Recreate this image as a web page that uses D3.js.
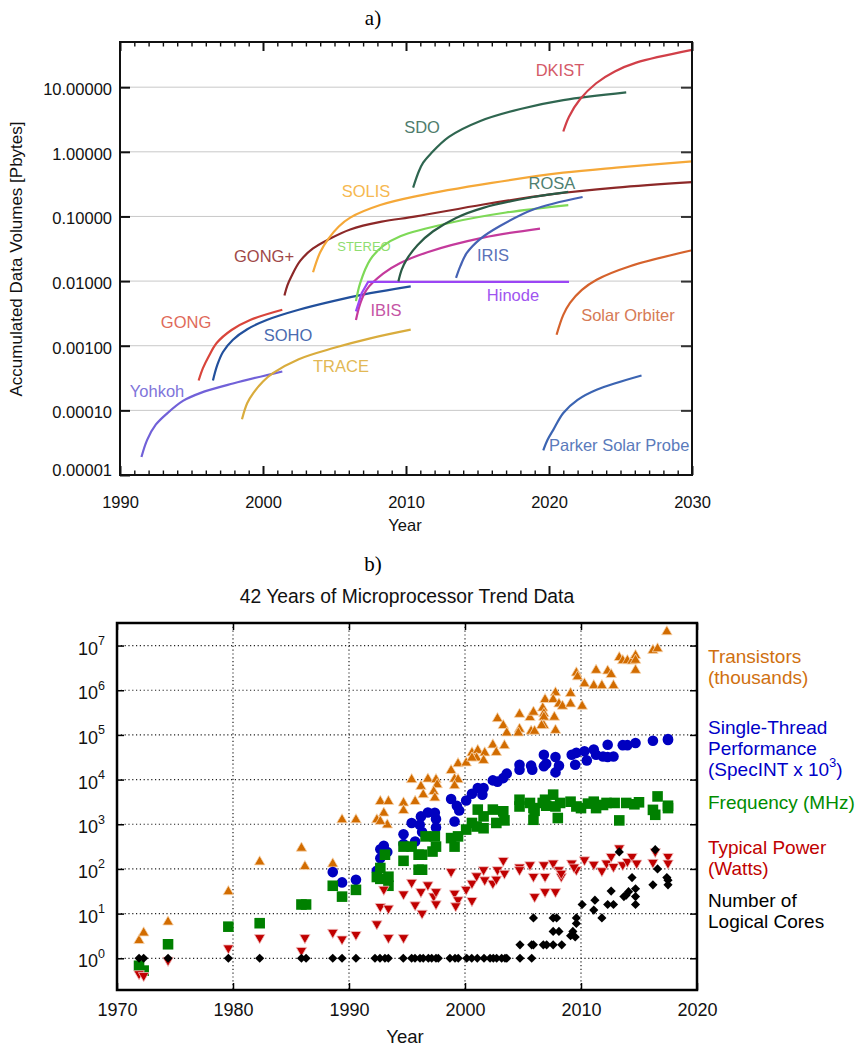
<!DOCTYPE html>
<html>
<head>
<meta charset="utf-8">
<script src="https://cdn.jsdelivr.net/npm/d3@7"></script>
<style>
  body { margin: 0; background: #fff; }
</style>
</head>
<body>
<svg id="fig" width="859" height="1047"></svg>
<script>
const FONT = '"Liberation Sans", Arial, Helvetica, sans-serif';
const SERIF = '"Liberation Serif", "DejaVu Serif", serif';

// ---------- panel a: accumulated data volume [PB] per year ----------
const yohkoh = [[1991.5, 1.9e-5], [1991.9, 3.5e-5], [1992.5, 6e-5], [1993.3, 9e-5], [1994.4, 1.4e-4], [1995.6, 1.85e-4], [1997.9, 2.6e-4], [2001.35, 4e-4]];
const gong = [[1995.5, 2.9e-4], [1995.8, 4.5e-4], [1996.2, 6.8e-4], [1996.76, 1.1e-3], [1997.8, 1.75e-3], [1999.1, 2.5e-3], [2001.35, 3.6e-3]];
const soho = [[1996.5, 2.9e-4], [1996.8, 5e-4], [1997.2, 8e-4], [1997.9, 1.24e-3], [1998.9, 1.8e-3], [2000.26, 2.5e-3], [2002.5, 3.6e-3], [2004.9, 4.9e-3], [2007.5, 6.5e-3], [2010.33, 8.3e-3]];
const trace = [[1998.53, 7.3e-5], [1998.9, 1.3e-4], [1999.32, 1.85e-4], [2000.0, 2.8e-4], [2000.72, 3.8e-4], [2002.5, 6.2e-4], [2004.92, 9.2e-4], [2007.5, 1.3e-3], [2010.33, 1.77e-3]];
const gongPlus = [[2001.5, 0.006], [2001.7, 0.0085], [2002.0, 0.012], [2002.6, 0.0205], [2003.5, 0.032], [2004.57, 0.044], [2006.1, 0.063], [2008.3, 0.083], [2010.7, 0.1], [2015.4, 0.153], [2020.1, 0.22], [2024.7, 0.28], [2030, 0.34]];
const solis = [[2003.5, 0.0137], [2004.0, 0.028], [2004.57, 0.045], [2005.3, 0.07], [2006.1, 0.096], [2008.2, 0.15], [2010.74, 0.206], [2016, 0.33], [2021, 0.475], [2024.7, 0.57], [2030, 0.71]];
const stereo = [[2006.5, 0.0049], [2006.8, 0.0094], [2007.5, 0.0215], [2008.4, 0.035], [2009.6, 0.0495], [2013.1, 0.08], [2017, 0.115], [2021.35, 0.15]];
const ibis = [[2006.5, 0.0025], [2006.8, 0.0045], [2007.25, 0.0074], [2008.4, 0.013], [2009.6, 0.019], [2011.5, 0.028], [2015.4, 0.047], [2019.37, 0.065]];
const hinode = [[2006.5, 0.0034], [2006.9, 0.0065], [2007.35, 0.0097], [2021.4, 0.0097]];
const rosa = [[2009.47, 0.0099], [2009.7, 0.015], [2010.04, 0.0215], [2010.8, 0.036], [2011.9, 0.059], [2013.5, 0.095], [2015.4, 0.136], [2018.9, 0.2], [2021.35, 0.24]];
const iris = [[2013.5, 0.0112], [2013.8, 0.017], [2014.24, 0.027], [2015.2, 0.045], [2016.57, 0.071], [2018.9, 0.128], [2022.35, 0.2]];
const sdo = [[2010.5, 0.28], [2010.9, 0.5], [2011.2, 0.68], [2011.7, 0.92], [2013, 1.7], [2015.2, 3.0], [2018, 4.6], [2021, 6.3], [2025.4, 8.3]];
const dkist = [[2021, 2.06], [2021.4, 3.5], [2022.17, 6.5], [2023.3, 11.5], [2024.6, 17.5], [2026.1, 24], [2030, 37.8]];
const solarOrbiter = [[2020.53, 0.00148], [2021.0, 0.003], [2021.47, 0.0046], [2022.3, 0.0073], [2023.33, 0.0105], [2025.66, 0.017], [2030, 0.03]];
const parker = [[2019.6, 2.4e-5], [2019.9, 3.5e-5], [2020.3, 5e-5], [2021, 9.1e-5], [2022.0, 1.45e-4], [2023.33, 2.08e-4], [2026.47, 3.46e-4]];

const missionNames = ["Yohkoh", "GONG", "SOHO", "TRACE", "GONG+", "SOLIS", "STEREO", "IBIS", "Hinode", "ROSA", "IRIS", "SDO", "DKIST", "Solar Orbiter", "Parker Solar Probe"];
const missionData = [yohkoh, gong, soho, trace, gongPlus, solis, stereo, ibis, hinode, rosa, iris, sdo, dkist, solarOrbiter, parker];
const yTicksA = [1e-5, 1e-4, 1e-3, 1e-2, 1e-1, 1, 10];

// styles
const lineColor = {
  "Yohkoh": "#7161d8", "GONG": "#d9453b", "SOHO": "#22509c", "TRACE": "#d9ac3d", "GONG+": "#8c2828",
  "SOLIS": "#f5a838", "STEREO": "#7ed957", "IBIS": "#c43a9c", "Hinode": "#9b45f5", "ROSA": "#2a5a45",
  "IRIS": "#4562b4", "SDO": "#2f6650", "DKIST": "#d13f48", "Solar Orbiter": "#d5622c", "Parker Solar Probe": "#3b64b2"
};
const labelColor = {
  "Yohkoh": "#8075da", "GONG": "#e06a5a", "SOHO": "#4a6bb0", "TRACE": "#e2b855", "GONG+": "#a04848",
  "SOLIS": "#f6b850", "STEREO": "#8fdd70", "IBIS": "#c555a5", "Hinode": "#a055f0", "ROSA": "#4f8070",
  "IRIS": "#5a72b8", "SDO": "#4f7c6c", "DKIST": "#d45a68", "Solar Orbiter": "#d67a55", "Parker Solar Probe": "#5a7abb"
};
// label anchors in data units
const labelAt = {
  "DKIST": [2020.77, 14.8], "SDO": [2011.12, 1.94], "SOLIS": [2007.2, 0.197], "ROSA": [2020.2, 0.262],
  "GONG+": [2000.07, 0.0194], "STEREO": [2007.06, 0.0292], "IRIS": [2016.08, 0.0203], "Hinode": [2017.48, 0.00486],
  "GONG": [1994.62, 0.0019], "SOHO": [2001.75, 0.00117], "IBIS": [2008.6, 0.00292], "Solar Orbiter": [2025.52, 0.00244],
  "TRACE": [2005.45, 3.86e-4], "Yohkoh": [1992.59, 1.62e-4], "Parker Solar Probe": [2020.0, 2.35e-5]
};

// ---------- panel b: microprocessor trend data ----------
const transistors = [[1971.9,2.5],[1972.3,3.7],[1974.4,6.5],[1979.6,31],[1982.3,144],[1985.9,292],[1986.2,113],[1988.6,130],[1989.4,1260],[1990.6,1260],[1992.4,1260],[1992.7,3240],[1993.4,3240],[1993.0,1780],[1993.3,970],[1992.7,1160],[1994.7,3000],[1994.7,2030],[1995.7,3240],[1995.4,10000],[1996.2,7050],[1996.4,4600],[1996.8,10300],[1997.5,10000],[1997.6,7700],[1997.3,5400],[1997.4,3900],[1998.8,16000],[1999.4,22700],[1999.1,10300],[1999.4,10000],[1999.1,7300],[2000.1,23600],[2000.6,39700],[2001.1,45000],[2001.0,30400],[2000.6,30400],[2001.7,39700],[2001.6,26900],[2002.4,59700],[2002.7,40700],[2003.4,57500],[2002.8,232000],[2003.3,162000],[2003.6,111000],[2004.7,290000],[2004.7,135000],[2004.6,111000],[2005.6,245000],[2005.9,323000],[2005.7,121000],[2006.0,121000],[2006.7,400000],[2006.8,300000],[2006.8,250000],[2006.8,162000],[2006.6,162000],[2007.7,250000],[2007.8,127000],[2006.9,620000],[2007.8,880000],[2007.6,620000],[2008.1,495000],[2008.4,440000],[2009.1,850000],[2009.1,495000],[2010.1,440000],[2009.6,2450000],[2009.7,2000000],[2010.3,1400000],[2011.1,1270000],[2011.3,2800000],[2011.8,1270000],[2012.3,2700000],[2012.6,2250000],[2012.8,1270000],[2013.3,5400000],[2013.6,4600000],[2014.0,4600000],[2014.4,4500000],[2014.7,6000000],[2014.7,4700000],[2014.7,2800000],[2016.2,7800000],[2016.6,8500000],[2017.4,20400000]];
const singleThread = [[1988.6,85],[1989.4,50],[1990.6,57],[1992.4,91],[1992.7,174],[1992.7,277],[1993.0,330],[1993.3,240],[1994.7,600],[1994.7,360],[1995.4,1070],[1995.7,410],[1996.1,970],[1996.2,1500],[1996.3,670],[1996.8,1840],[1997.4,1800],[1997.5,1310],[1997.5,850],[1998.8,3670],[1999.1,1150],[1999.3,2580],[1999.5,2030],[2000.1,3400],[2000.6,4800],[2001.1,6460],[2001.5,4600],[2001.6,6460],[2002.4,9600],[2002.8,9000],[2003.3,10800],[2003.6,13600],[2004.7,21500],[2004.7,16600],[2005.7,20500],[2005.8,16600],[2006.8,36000],[2006.8,20000],[2007.0,22500],[2007.8,32000],[2008.1,20500],[2007.8,14500],[2009.2,36000],[2009.6,39700],[2009.5,21500],[2010.3,43000],[2010.5,26900],[2011.1,47000],[2011.3,36000],[2011.9,33000],[2012.3,32000],[2012.8,33000],[2012.3,60000],[2013.6,59000],[2014.0,59000],[2014.7,66000],[2016.2,74000],[2017.5,81000],[2017.5,77000]];
const frequency = [[1971.9,0.68],[1972.3,0.53],[1974.4,2.06],[1979.6,5.1],[1982.3,6.1],[1985.9,16],[1986.3,16],[1988.6,42],[1989.4,24],[1990.6,34],[1992.4,66],[1992.7,105],[1992.7,60],[1993.4,67],[1993.4,42],[1993.1,208],[1994.7,152],[1994.7,316],[1995.4,316],[1996.0,96],[1996.3,96],[1996.0,208],[1996.3,208],[1996.6,535],[1997.2,245],[1997.5,316],[1997.4,535],[1998.8,490],[1999.1,316],[1999.4,535],[2000.1,760],[2000.6,1070],[2001.0,890],[2001.6,815],[2001.1,2130],[2001.6,1500],[2002.4,2130],[2002.7,1070],[2003.3,1950],[2003.4,1220],[2004.7,3540],[2004.7,2500],[2005.6,3000],[2005.9,1260],[2005.9,2300],[2006.0,2000],[2006.7,3000],[2006.9,3540],[2007.0,2600],[2007.6,4600],[2008.0,1380],[2007.8,2500],[2008.2,3000],[2009.1,3200],[2009.6,2500],[2010.0,2300],[2010.6,2900],[2011.1,3200],[2011.3,2300],[2011.9,2700],[2012.2,3000],[2012.9,3000],[2013.3,1220],[2013.9,3000],[2014.6,2800],[2015.0,3100],[2016.2,2100],[2016.4,1630],[2016.6,4200],[2017.5,2300],[2017.5,2600]];
const power = [[1971.9,0.45],[1972.3,0.41],[1974.4,0.9],[1979.6,1.7],[1982.3,2.9],[1985.9,1.5],[1986.2,2.9],[1988.6,3.8],[1989.4,2.7],[1990.6,3.4],[1992.4,5.9],[1992.7,14.4],[1993.0,35],[1993.4,13.2],[1993.4,2.9],[1994.7,2.9],[1994.7,27.5],[1995.4,50],[1995.7,15.7],[1996.2,31],[1996.3,10.2],[1996.8,44],[1997.3,24.6],[1997.5,31],[1997.5,16.5],[1998.8,87],[1999.1,28.6],[1999.4,20.4],[1999.2,14.9],[2000.1,35],[2000.6,19.6],[2000.6,48],[2001.0,70],[2001.6,96],[2001.7,57],[2002.4,48],[2002.7,59],[2002.8,96],[2003.3,155],[2003.4,80],[2004.7,110],[2004.7,96],[2005.6,124],[2005.9,68],[2006.0,24],[2006.8,124],[2006.9,68],[2006.9,31],[2007.6,135],[2007.8,31],[2008.1,96],[2008.3,68],[2008.3,80],[2009.2,135],[2009.6,96],[2009.4,110],[2010.3,160],[2011.1,127],[2011.8,91],[2012.2,135],[2012.6,190],[2012.8,113],[2013.3,295],[2013.6,124],[2014.0,147],[2014.4,190],[2014.8,135],[2016.2,140],[2016.4,245],[2017.5,190],[2017.5,135]];
const cores = [[1971.9,1],[1972.3,1],[1974.4,1],[1979.6,1],[1982.3,1],[1985.9,1],[1986.3,1],[1988.6,1],[1989.4,1],[1990.6,1],[1992.24,1],[1992.67,1],[1993.1,1],[1993.39,1],[1994.68,1],[1995.4,1],[1995.69,1],[1996.12,1],[1996.4,1],[1996.84,1],[1997.13,1],[1997.5,1],[1997.7,1],[1998.7,1],[1999.14,1],[1999.42,1],[2000.15,1],[2000.58,1],[2001.06,1],[2001.64,1],[2002.16,1],[2002.44,1],[2002.73,1],[2003.16,1],[2003.45,1],[2003.6,1],[2004.74,1],[2005.75,1],[2004.74,2],[2005.75,2],[2005.9,2],[2006.75,2],[2007.04,2],[2007.6,2],[2008.34,2],[2005.9,8],[2007.6,8],[2007.9,8],[2007.6,4],[2008.1,4],[2009.1,3.2],[2009.3,4],[2009.5,3],[2009.6,6],[2009.6,8],[2010.1,16],[2011.1,12],[2011.2,20],[2011.8,8],[2012.3,16],[2012.8,16],[2012.6,32],[2013.3,240],[2013.7,24],[2013.9,26],[2014.1,31],[2014.4,64],[2014.7,36],[2014.7,24],[2014.7,16],[2016.2,44],[2016.4,270],[2016.6,100],[2017.4,64],[2017.5,56],[2017.5,44]];
const xTicksB = [1970, 1980, 1990, 2000, 2010, 2020];
const yExpB = [0, 1, 2, 3, 4, 5, 6, 7];

const svg = d3.select("#fig");

// ======================= panel a =======================
const xA = d3.scaleLinear().domain([1990, 2030]).range([120, 692]);
const yA = d3.scaleLog().domain([1e-5, 50]).range([475, 42]);
const gA = svg.append("g");

gA.append("text").attr("x", 373).attr("y", 25).attr("text-anchor", "middle")
  .attr("font-family", SERIF).attr("font-size", 21).text("a)");

// grid
gA.append("g").selectAll("line").data(yTicksA.slice(1)).join("line")
  .attr("x1", xA(1990)).attr("x2", xA(2030))
  .attr("y1", d => yA(d)).attr("y2", d => yA(d))
  .attr("stroke", "#c8c8c8").attr("stroke-width", 1);

// curves
const lineA = d3.line().x(d => xA(d[0])).y(d => yA(d[1]));
gA.append("g").attr("fill", "none").attr("stroke-width", 2.2)
  .selectAll("path").data(missionNames).join("path")
  .attr("stroke", d => lineColor[d])
  .attr("d", (d, i) => lineA.curve(d === "Hinode" ? d3.curveLinear : d3.curveCatmullRom.alpha(0.5))(missionData[i]));

// mission labels
gA.append("g").attr("font-family", FONT)
  .selectAll("text").data(missionNames).join("text")
  .attr("x", d => xA(labelAt[d][0])).attr("y", d => yA(labelAt[d][1]))
  .attr("text-anchor", d => d === "Parker Solar Probe" ? "start" : "middle")
  .attr("font-size", d => d === "STEREO" ? 13 : 16.5)
  .attr("fill", d => labelColor[d])
  .text(d => d);

function styleAxis(g) {
  g.attr("font-family", FONT).attr("font-size", 16.5);
  g.select(".domain").remove();
  g.selectAll(".tick text").attr("fill", "#111");
}
const years = d3.range(1990, 2031);
gA.append("g").attr("transform", "translate(0,475)")
  .call(d3.axisBottom(xA).tickValues(years).tickSize(-4).tickPadding(21).tickFormat(d => d % 10 ? "" : d))
  .call(styleAxis)
  .call(g => g.selectAll(".tick line").attr("y2", d => d % 10 ? -4.5 : -9)
    .attr("stroke", "#111").attr("stroke-width", d => d % 10 ? 1.4 : 2));
gA.append("g").attr("transform", "translate(0,42)")
  .call(d3.axisTop(xA).tickValues(years).tickSize(-4).tickFormat(""))
  .call(styleAxis)
  .call(g => g.selectAll(".tick line").attr("y2", d => d % 10 ? 4.5 : 9)
    .attr("stroke", "#111").attr("stroke-width", d => d % 10 ? 1.4 : 2));
gA.append("g").attr("transform", "translate(120,0)")
  .call(d3.axisLeft(yA).tickValues(yTicksA).tickSize(-10).tickPadding(8).tickFormat(d3.format(".5f")))
  .call(styleAxis)
  .call(g => {
    g.selectAll(".tick line").attr("stroke", "#111").attr("stroke-width", 2);
    g.selectAll(".tick text").attr("dy", d => d === 1e-5 ? "0.05em" : "0.45em");
  });
gA.append("g").attr("transform", "translate(692,0)")
  .call(d3.axisRight(yA).tickValues(yTicksA.slice(1)).tickSize(-11).tickFormat(""))
  .call(styleAxis)
  .call(g => g.selectAll(".tick line").attr("stroke", "#333").attr("stroke-width", 2));

gA.append("rect").attr("x", 120).attr("y", 42).attr("width", 572).attr("height", 433)
  .attr("fill", "none").attr("stroke", "#111").attr("stroke-width", 2);

gA.append("text").attr("x", 405).attr("y", 531).attr("text-anchor", "middle")
  .attr("font-family", FONT).attr("font-size", 16.5).attr("fill", "#111").text("Year");
gA.append("text").attr("transform", "translate(22,259) rotate(-90)").attr("text-anchor", "middle")
  .attr("font-family", FONT).attr("font-size", 17).attr("fill", "#111")
  .text("Accumulated Data Volumes [Pbytes]");

// ======================= panel b =======================
const xB = d3.scaleLinear().domain([1970, 2020]).range([117, 697]);
const yB = d3.scaleLog().domain([0.195, 3.2e7]).range([990, 623]);
const gB = svg.append("g");

gB.append("text").attr("x", 373).attr("y", 571).attr("text-anchor", "middle")
  .attr("font-family", SERIF).attr("font-size", 21).text("b)");
gB.append("text").attr("x", 407).attr("y", 603).attr("text-anchor", "middle")
  .attr("font-family", FONT).attr("font-size", 19.3).attr("fill", "#111")
  .text("42 Years of Microprocessor Trend Data");

// dotted grid
const grid = gB.append("g").attr("stroke", "#222").attr("stroke-width", 1.2).attr("stroke-dasharray", "1.2,2.6");
grid.selectAll("line.h").data(yExpB).join("line").attr("class", "h")
  .attr("x1", xB(1970)).attr("x2", xB(2020))
  .attr("y1", d => yB(10 ** d)).attr("y2", d => yB(10 ** d));
grid.selectAll("line.v").data(xTicksB.slice(1, -1)).join("line").attr("class", "v")
  .attr("x1", d => xB(d)).attr("x2", d => xB(d))
  .attr("y1", yB.range()[1]).attr("y2", yB.range()[0]);

// markers
const sym = (type, size) => d3.symbol(type, size)();
const markerSets = [
  { data: transistors, path: sym(d3.symbolTriangle, 48), rot: 0, fill: "#d26c00", stroke: "#f7d6b0" },
  { data: singleThread, path: sym(d3.symbolCircle, 88), rot: 0, fill: "#0000c0", stroke: "none" },
  { data: frequency, path: sym(d3.symbolSquare, 112), rot: 0, fill: "#008000", stroke: "none" },
  { data: power, path: sym(d3.symbolTriangle, 48), rot: 180, fill: "#c00000", stroke: "#f2c4c4" },
  { data: cores, path: sym(d3.symbolSquare, 42), rot: 45, fill: "#000", stroke: "none" }
];
markerSets.forEach(m => {
  gB.append("g").selectAll("path").data(m.data).join("path")
    .attr("d", m.path)
    .attr("transform", d => `translate(${xB(d[0])},${yB(d[1])}) rotate(${m.rot})`)
    .attr("fill", m.fill).attr("stroke", m.stroke).attr("stroke-width", 0.8);
});

// axes
function styleAxisB(g) {
  g.attr("font-family", FONT).attr("font-size", 18);
  g.select(".domain").remove();
  g.selectAll(".tick line").attr("stroke", "#000").attr("stroke-width", 1.5);
  g.selectAll(".tick text").attr("fill", "#111");
}
gB.append("g").attr("transform", "translate(0,990)")
  .call(d3.axisBottom(xB).tickValues(xTicksB).tickSize(-7).tickPadding(13).tickFormat(d3.format("d")))
  .call(styleAxisB);
gB.append("g").attr("transform", "translate(0,623)")
  .call(d3.axisTop(xB).tickValues(xTicksB).tickSize(-7).tickFormat(""))
  .call(styleAxisB);
gB.append("g").attr("transform", "translate(117,0)")
  .call(d3.axisLeft(yB).tickValues(yExpB.map(e => 10 ** e)).tickSize(-7).tickFormat(""))
  .call(styleAxisB)
  .call(g => g.selectAll(".tick").append("text")
    .attr("x", -12).attr("y", 8.5).attr("text-anchor", "end").attr("fill", "#111")
    .call(t => t.append("tspan").text("10"))
    .call(t => t.append("tspan").attr("font-size", 12.5).attr("dy", -9.5).text(d => Math.round(Math.log10(d)))));
gB.append("g").attr("transform", "translate(697,0)")
  .call(d3.axisRight(yB).tickValues(yExpB.map(e => 10 ** e)).tickSize(-7).tickFormat(""))
  .call(styleAxisB);

gB.append("rect").attr("x", 117).attr("y", 623).attr("width", 580).attr("height", 367)
  .attr("fill", "none").attr("stroke", "#000").attr("stroke-width", 2.5);

gB.append("text").attr("x", 405).attr("y", 1043).attr("text-anchor", "middle")
  .attr("font-family", FONT).attr("font-size", 18.5).attr("fill", "#111").text("Year");

// legend text
const legendLines = [
  { t: "Transistors", y: 663, c: "#d07010" }, { t: "(thousands)", y: 684, c: "#d07010" },
  { t: "Single-Thread", y: 734, c: "#0000c8" }, { t: "Performance", y: 755, c: "#0000c8" },
  { t: "(SpecINT x 10", sup: "3", tail: ")", y: 776, c: "#0000c8" },
  { t: "Frequency (MHz)", y: 809, c: "#008c00" },
  { t: "Typical Power", y: 854, c: "#c00000" }, { t: "(Watts)", y: 875, c: "#c00000" },
  { t: "Number of", y: 907, c: "#000" }, { t: "Logical Cores", y: 928, c: "#000" }
];
const lg = gB.append("g").attr("font-family", FONT).attr("font-size", 19);
legendLines.forEach(l => {
  const t = lg.append("text").attr("x", 708).attr("y", l.y).attr("fill", l.c);
  t.append("tspan").text(l.t);
  if (l.sup) {
    t.append("tspan").attr("font-size", 13).attr("dy", -9).text(l.sup);
    t.append("tspan").attr("dy", 9).text(l.tail);
  }
});
</script>
</body>
</html>
